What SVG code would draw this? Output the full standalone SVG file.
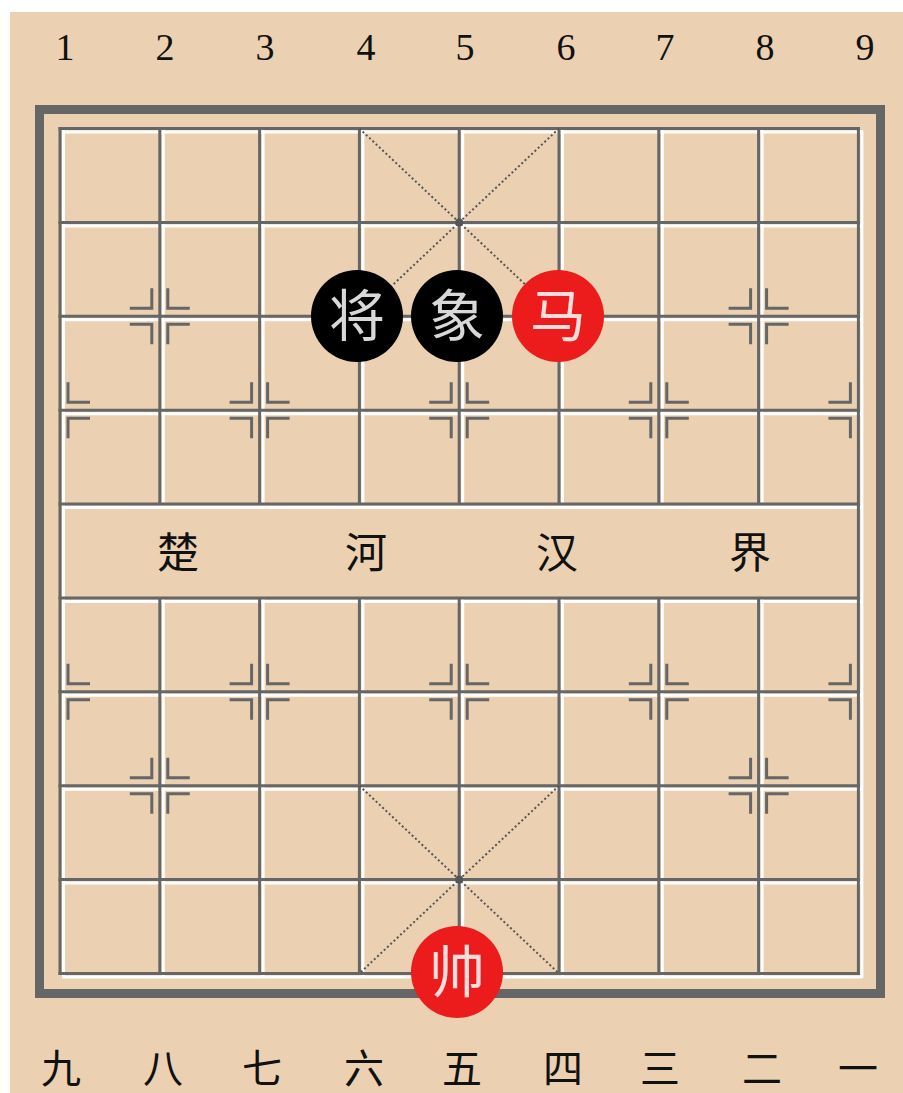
<svg xmlns="http://www.w3.org/2000/svg" xmlns:xlink="http://www.w3.org/1999/xlink" width="903" height="1093" viewBox="0 0 903 1093">
<style>
.g{stroke:#666;stroke-width:3;fill:none}
.w{stroke:#fff;stroke-width:3;fill:none}
.mk{stroke:#666;stroke-width:3;fill:none}
.dg{stroke:#555;stroke-width:2;stroke-dasharray:2 2.5;fill:none}
.num{font-family:"Liberation Serif",serif;font-size:38px;fill:#111;text-anchor:middle}
.cn{font-family:"Noto Sans CJK SC",sans-serif;font-size:40px;fill:#111;text-anchor:middle}
.rv{font-family:"Noto Sans CJK SC",sans-serif;font-size:42px;fill:#111;text-anchor:middle}
.pt{font-family:"Noto Sans CJK SC",sans-serif;font-size:56px;text-anchor:middle;font-weight:400}
</style>
<defs>
<path id="mkR" class="mk" d="M8,-28V-8H30M8,28V8H30"/>
<path id="mkL" class="mk" d="M-8,-28V-8H-30M-8,28V8H-30"/>
</defs>
<rect x="0" y="0" width="903" height="1093" fill="#fff"/>
<rect x="10" y="12" width="893" height="1081" fill="#EBD1B2"/>
<g id="top-numbers">
<text class="num" x="65" y="60">1</text><text class="num" x="165" y="60">2</text><text class="num" x="265" y="60">3</text><text class="num" x="366" y="60">4</text><text class="num" x="465" y="60">5</text><text class="num" x="566" y="60">6</text><text class="num" x="665" y="60">7</text><text class="num" x="765" y="60">8</text><text class="num" x="865" y="60">9</text>
</g>
<g id="frame"><rect x="39.5" y="109.5" width="841" height="884" fill="none" stroke="#666" stroke-width="9"/></g>
<g id="grid">
<g class="w">
<path d="M62,132H862M62,225.9H862M62,319.8H862M62,413.7H862M62,507.6H862M62,601.5H862M62,695.3H862M62,789.2H862M62,883.1H862M62,977H862"/>
<path d="M63.5,130V978M861.9,130V978"/>
<path d="M163.3,130V505M263.1,130V505M362.9,130V505M462.7,130V505M562.5,130V505M662.3,130V505M762.1,130V505"/>
<path d="M163.3,599V978M263.1,599V978M362.9,599V978M462.7,599V978M562.5,599V978M662.3,599V978M762.1,599V978"/>
</g>
<g class="g">
<path d="M58.5,128.5H859.9M58.5,222.4H859.9M58.5,316.3H859.9M58.5,410.2H859.9M58.5,504.1H859.9M58.5,598H859.9M58.5,691.8H859.9M58.5,785.7H859.9M58.5,879.6H859.9M58.5,973.5H859.9"/>
<path d="M60,127V975M858.4,127V975"/>
<path d="M159.8,127V504.1M259.6,127V504.1M359.4,127V504.1M459.2,127V504.1M559,127V504.1M658.8,127V504.1M758.6,127V504.1"/>
<path d="M159.8,598V975M259.6,598V975M359.4,598V975M459.2,598V975M559,598V975M658.8,598V975M758.6,598V975"/>
</g>
</g>
<g id="palace">
<path class="dg" d="M359.4,128.5L559,316.3M559,128.5L359.4,316.3M359.4,785.7L559,973.5M559,785.7L359.4,973.5"/>
<circle cx="459.2" cy="222.4" r="4" fill="#555"/>
<circle cx="459.2" cy="879.6" r="4" fill="#555"/>
</g>
<g id="markers">
<use xlink:href="#mkR" href="#mkR" transform="translate(60,410.2)"/>
<use xlink:href="#mkL" href="#mkL" transform="translate(259.6,410.2)"/><use xlink:href="#mkR" href="#mkR" transform="translate(259.6,410.2)"/>
<use xlink:href="#mkL" href="#mkL" transform="translate(459.2,410.2)"/><use xlink:href="#mkR" href="#mkR" transform="translate(459.2,410.2)"/>
<use xlink:href="#mkL" href="#mkL" transform="translate(658.8,410.2)"/><use xlink:href="#mkR" href="#mkR" transform="translate(658.8,410.2)"/>
<use xlink:href="#mkL" href="#mkL" transform="translate(858.4,410.2)"/>
<use xlink:href="#mkR" href="#mkR" transform="translate(60,691.8)"/>
<use xlink:href="#mkL" href="#mkL" transform="translate(259.6,691.8)"/><use xlink:href="#mkR" href="#mkR" transform="translate(259.6,691.8)"/>
<use xlink:href="#mkL" href="#mkL" transform="translate(459.2,691.8)"/><use xlink:href="#mkR" href="#mkR" transform="translate(459.2,691.8)"/>
<use xlink:href="#mkL" href="#mkL" transform="translate(658.8,691.8)"/><use xlink:href="#mkR" href="#mkR" transform="translate(658.8,691.8)"/>
<use xlink:href="#mkL" href="#mkL" transform="translate(858.4,691.8)"/>
<use xlink:href="#mkL" href="#mkL" transform="translate(159.8,316.3)"/><use xlink:href="#mkR" href="#mkR" transform="translate(159.8,316.3)"/>
<use xlink:href="#mkL" href="#mkL" transform="translate(758.6,316.3)"/><use xlink:href="#mkR" href="#mkR" transform="translate(758.6,316.3)"/>
<use xlink:href="#mkL" href="#mkL" transform="translate(159.8,785.7)"/><use xlink:href="#mkR" href="#mkR" transform="translate(159.8,785.7)"/>
<use xlink:href="#mkL" href="#mkL" transform="translate(758.6,785.7)"/><use xlink:href="#mkR" href="#mkR" transform="translate(758.6,785.7)"/>
</g>
<g id="river">
<text class="rv" x="178" y="568">楚</text><text class="rv" x="366" y="568">河</text><text class="rv" x="557" y="568">汉</text><text class="rv" x="750" y="568">界</text>
</g>
<g id="piece-jiang"><circle cx="357" cy="316" r="46" fill="#000"/><text class="pt" x="357" y="336" fill="#d8d8d8">将</text></g>
<g id="piece-xiang"><circle cx="457" cy="316" r="46" fill="#000"/><text class="pt" x="457" y="336" fill="#d8d8d8">象</text></g>
<g id="piece-ma"><circle cx="558" cy="316" r="46" fill="#EC1C1C"/><text class="pt" x="558" y="336" fill="#fdd">马</text></g>
<g id="piece-shuai"><circle cx="457" cy="972" r="46" fill="#EC1C1C"/><text class="pt" x="457" y="992" fill="#fdd">帅</text></g>
<g id="bottom-numbers">
<text class="cn" x="61" y="1083">九</text><text class="cn" x="163" y="1083">八</text><text class="cn" x="262" y="1083">七</text><text class="cn" x="364" y="1083">六</text><text class="cn" x="462" y="1083">五</text><text class="cn" x="563" y="1083">四</text><text class="cn" x="660" y="1083">三</text><text class="cn" x="762" y="1083">二</text><text class="cn" x="858" y="1083">一</text>
</g>
</svg>
